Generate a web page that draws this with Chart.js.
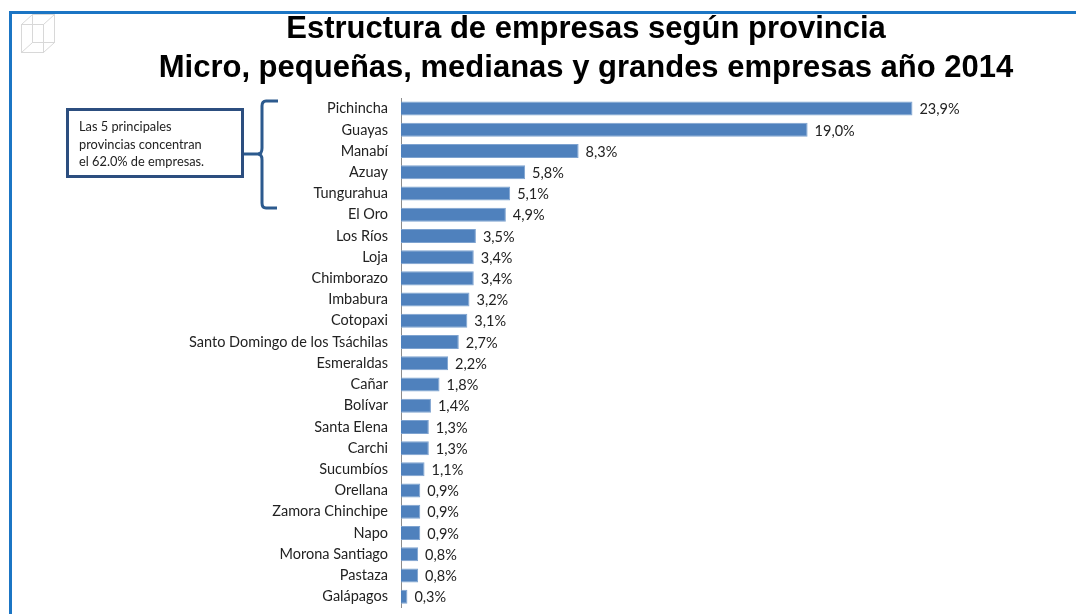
<!DOCTYPE html>
<html>
<head>
<meta charset="utf-8">
<script src="https://cdn.jsdelivr.net/npm/chart.js@4.4.0/dist/chart.umd.min.js"></script>
<style>
  body { margin: 0; background: #fff; }
  #wrap { position: relative; width: 1076px; height: 614px; overflow: hidden; }
  #frameTop { position: absolute; left: 9px; top: 11px; width: 1067px; height: 3px; background: #1b75c4; }
  #frameLeft { position: absolute; left: 9px; top: 11px; width: 3px; height: 603px; background: #1b75c4; }
  #title { position: absolute; left: 86px; width: 1000px; top: 8px; text-align: center;
           font: bold 31px "Liberation Sans", Arial, sans-serif; line-height: 39px; color: #000; }
  #note { position: absolute; left: 66px; top: 108px; width: 172px; height: 64px; box-sizing: content-box;
          border: 3px solid #2c4e7f; padding: 0; font: 12.8px Lato, "Open Sans", sans-serif; color: #222; }
  #note div { position: absolute; left: 10px; top: 7px; line-height: 17.5px; }
  canvas { position: absolute; left: 0; top: 0; }
</style>
</head>
<body>
<div id="wrap">
  <canvas id="barChart" width="1076" height="629"></canvas>
  <div id="frameTop"></div>
  <div id="frameLeft"></div>
  <div id="title">Estructura de empresas según provincia<br>Micro, pequeñas, medianas y grandes empresas año 2014</div>
  <div id="note"><div>Las 5 principales<br>provincias concentran<br>el 62.0% de empresas.</div></div>
</div>
<script>
// Data
const provincias = ['Pichincha', 'Guayas', 'Manabí', 'Azuay', 'Tungurahua', 'El Oro', 'Los Ríos', 'Loja',
  'Chimborazo', 'Imbabura', 'Cotopaxi', 'Santo Domingo de los Tsáchilas', 'Esmeraldas', 'Cañar', 'Bolívar',
  'Santa Elena', 'Carchi', 'Sucumbíos', 'Orellana', 'Zamora Chinchipe', 'Napo', 'Morona Santiago', 'Pastaza', 'Galápagos'];
const porcentajes = [23.9, 19.0, 8.3, 5.8, 5.1, 4.9, 3.5, 3.4, 3.4, 3.2, 3.1, 2.7, 2.2, 1.8, 1.4, 1.3, 1.3, 1.1, 0.9, 0.9, 0.9, 0.8, 0.8, 0.3];

const labelFont = '14.5px Lato, "Open Sans", sans-serif';

// value labels next to each bar + bracket and little cube icon
const extras = {
  id: 'extras',
  afterDatasetsDraw(chart) {
    const ctx = chart.ctx;
    const meta = chart.getDatasetMeta(0);
    ctx.save();
    ctx.font = labelFont;
    ctx.fillStyle = '#222';
    ctx.textBaseline = 'middle';
    ctx.textAlign = 'left';
    meta.data.forEach((bar, i) => {
      ctx.fillText(porcentajes[i].toFixed(1).replace('.', ',') + '%', bar.x + 7, bar.y + 1);
    });
    ctx.restore();
  },
  afterDraw(chart) {
    const ctx = chart.ctx;
    ctx.save();
    // bracket
    ctx.strokeStyle = '#2c5a8e';
    ctx.lineWidth = 3;
    ctx.beginPath();
    ctx.moveTo(278, 101);
    ctx.lineTo(266, 101);
    ctx.quadraticCurveTo(262, 101, 262, 106);
    ctx.lineTo(262, 148);
    ctx.quadraticCurveTo(262, 154, 258, 154);
    ctx.quadraticCurveTo(262, 154, 262, 160);
    ctx.lineTo(262, 203);
    ctx.quadraticCurveTo(262, 208, 266, 208);
    ctx.lineTo(277, 208);
    ctx.stroke();
    ctx.beginPath();
    ctx.moveTo(243, 154);
    ctx.lineTo(260, 154);
    ctx.stroke();
    // cube icon
    ctx.strokeStyle = '#d8d8d8';
    ctx.lineWidth = 1;
    ctx.strokeRect(21.5, 24.5, 22, 28);
    ctx.strokeRect(32.5, 14.5, 22, 28);
    ctx.beginPath();
    ctx.moveTo(21.5, 24.5); ctx.lineTo(32.5, 14.5);
    ctx.moveTo(43.5, 24.5); ctx.lineTo(54.5, 14.5);
    ctx.moveTo(21.5, 52.5); ctx.lineTo(32.5, 42.5);
    ctx.moveTo(43.5, 52.5); ctx.lineTo(54.5, 42.5);
    ctx.stroke();
    ctx.restore();
  }
};

new Chart(document.getElementById('barChart'), {
  type: 'bar',
  data: {
    labels: provincias,
    datasets: [{
      data: porcentajes,
      backgroundColor: '#4f81bd',
      borderColor: '#7ea3d0',
      borderWidth: 1,
      borderSkipped: 'left',
      categoryPercentage: 1,
      barPercentage: 0.66
    }]
  },
  options: {
    indexAxis: 'y',
    responsive: false,
    animation: false,
    layout: { padding: { top: 98, bottom: 0, left: 0, right: 140 } },
    plugins: { legend: { display: false }, tooltip: { enabled: false } },
    scales: {
      x: { display: false, min: 0, max: 25 },
      y: {
        afterFit(scale) { scale.width = 401; },
        grid: { display: false, drawTicks: false },
        border: { display: true, color: '#8c8c8c', width: 1 },
        ticks: { color: '#222', font: { family: 'Lato, "Open Sans", sans-serif', size: 14.5 }, padding: 13, autoSkip: false }
      }
    }
  },
  plugins: [extras]
});
</script>
</body>
</html>
